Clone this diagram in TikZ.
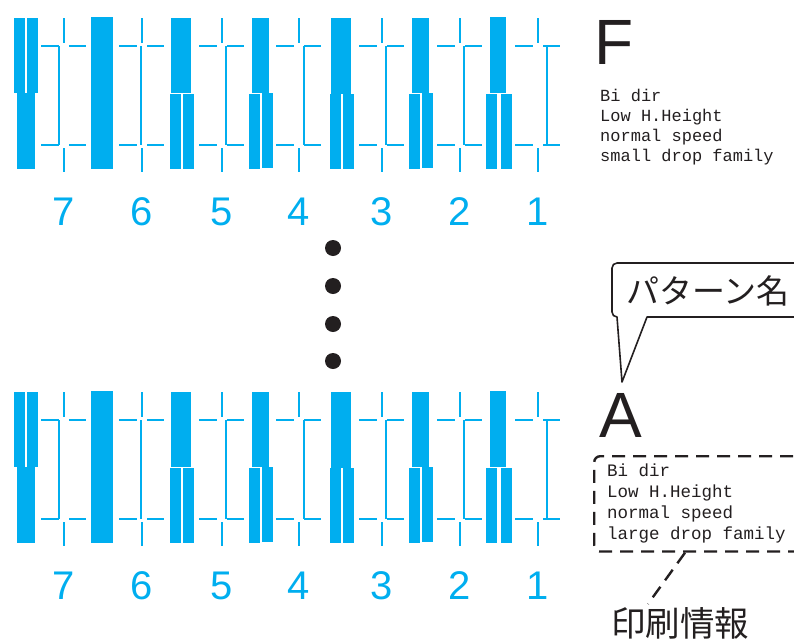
\documentclass[tikz,border=0pt]{standalone}
\usepackage{fontspec}
\setmainfont{Liberation Sans}
\setmonofont{Liberation Mono}
\newfontfamily\jpfont{Noto Sans CJK JP}
\usetikzlibrary{positioning}
\definecolor{nozzle}{RGB}{0,174,239}
\definecolor{ink}{RGB}{35,31,32}

\begin{document}
\begin{tikzpicture}[x=1pt, y=-1pt, every node/.style={inner sep=0pt}, bar/.style={fill=nozzle}, tick/.style={draw=nozzle,line width=2.2pt}, num/.style={text=nozzle,font=\fontsize{40}{40}\selectfont}, mono/.style={font=\ttfamily\fontsize{17}{20}\selectfont,align=left,text=ink,execute at begin node={\spaceskip=0pt\xspaceskip=0pt}}, big/.style={font=\fontsize{64}{64}\selectfont,text=ink}, jp/.style={font=\jpfont\fontsize{33}{33}\selectfont,text=ink}, dashline/.style={draw=ink,line width=2.4pt,dash pattern=on 13pt off 8pt}]
\useasboundingbox (0,0) rectangle (794,640);
% two check patterns, the lower one is the same shifted down
\foreach \dy/\sfx in {0/t,374/b} {
\begin{scope}[yshift=-\dy pt]
\foreach \xa/\ya/\xb/\yb in {14/18/25/93, 27/18/38/93, 17/93/35/169, 91/17/113/169, 171/18/191/93, 170/94/181/169, 183/94/194/169, 252/18/269/93, 249/94/260/169, 262/93/273/168, 331/18/351/94, 330/94/341/169, 343/94/354/169, 412/18/429/93, 409/94/420/169, 422/93/433/168, 490/17/506/93, 486/94/497/169, 501/94/512/169}
  \fill[bar] (\xa,\ya) rectangle (\xb,\yb);
\foreach \t/\r/\n in {64/59/7, 142/141/6, 222/226/5, 299/304/4, 382/386/3, 460/464/2, 538/547/1} {
  \draw[tick] ({\t-23},46) -- ({\t-5},46) ({\t+5},46) -- ({\t+22},46);
  \draw[tick] ({\t-23},145) -- ({\t-5},145) ({\t+5},145) -- ({\t+22},145);
  \draw[tick] (\t,18) -- (\t,43) (\t,148) -- (\t,172);
  \draw[tick] (\r,46) -- (\r,145);
  \node[num] (n\n\sfx) at (\t,212) {\n};
}
\end{scope}
}
\foreach \y in {248,286,324,361} \fill[ink] (333,\y) circle (8);
% labels on the right
\node[big,anchor=base west] (patF) at (594,64) {F};
\node[mono,anchor=north west] (infoF) at (600,89) {Bi dir\\Low H.Height\\normal speed\\small drop family};
\node[big,anchor=base west] (patA) at (599,437) {A};
\node[mono,font=\ttfamily\fontsize{17.5}{21}\selectfont,dashline,rounded corners=6pt,anchor=north west,inner xsep=13pt,inner ysep=8pt,text width=200pt] (infoA) at (593,455) {Bi dir\\Low H.Height\\normal speed\\large drop family};
\node[jp,anchor=west] (patname) at (626,291) {パターン名};
\node[jp,font=\jpfont\fontsize{34.5}{34.5}\selectfont,anchor=west] (infolbl) at (611,623) {印刷情報};
\coordinate (tip) at (622,382);
\draw[draw=ink,line width=1.6pt,line join=round] (810,317) -- (647,317) -- (tip) -- (617,317) [rounded corners=5pt] -- (612,317) -- (612,263) -- (810,263);
\draw[dashline] ([xshift=92pt]infoA.south west) -- ([xshift=37pt,yshift=3pt]infolbl.north west);
\end{tikzpicture}
\end{document}
